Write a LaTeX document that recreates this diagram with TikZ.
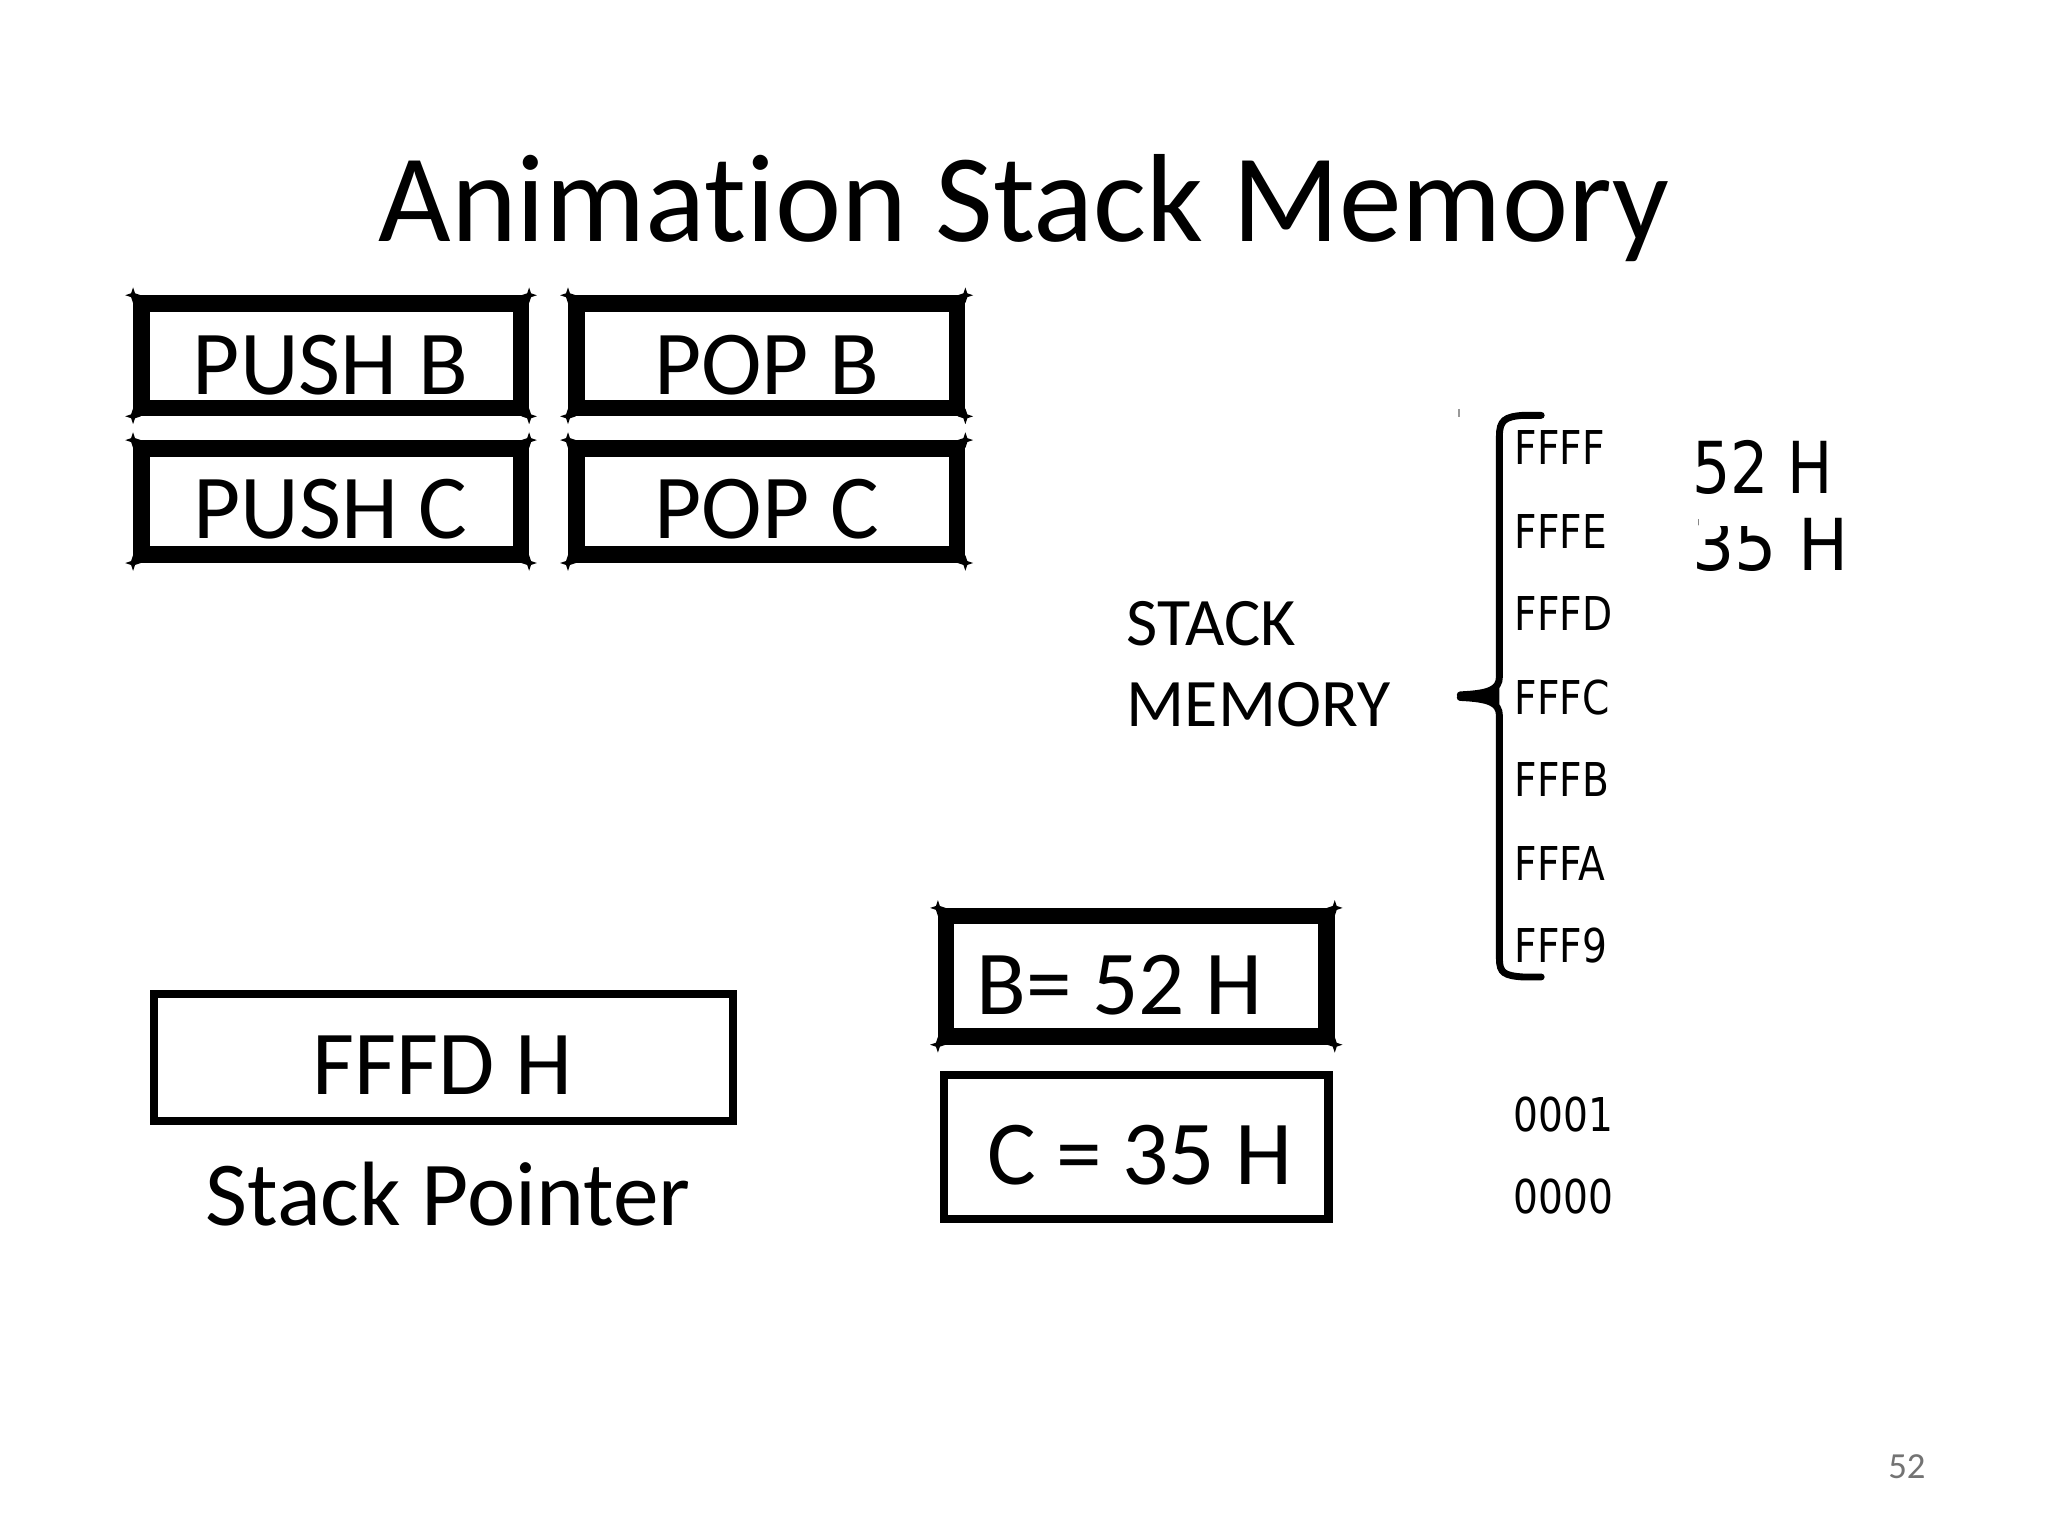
\documentclass[tikz,border=0pt]{standalone}
\usepackage{fontspec}
\setmainfont{Carlito}[Ligatures=NoCommon]
\newfontfamily\dvs[FakeStretch=0.84]{DejaVu Sans}
\newfontfamily\dvsw[FakeStretch=0.93]{DejaVu Sans}
\begin{document}
\begin{tikzpicture}[x=0.01cm,y=-0.01cm]
\tikzset{
  txt/.style={inner sep=0pt, anchor=base},
  txtw/.style={inner sep=0pt, anchor=base west},
  lbl/.style={font=\fontsize{19.9}{24}\selectfont},
  addr/.style={txtw, font=\dvs\fontsize{10.15}{12}\selectfont},
  thickbox/.style={draw, line width=3.6pt, inner sep=0pt},
  thinbox/.style={draw, line width=1.8pt, inner sep=0pt},
}
\useasboundingbox (0,0) rectangle (1568,1176);
\fill[white] (0,0) rectangle (1568,1176);

% title
\node[txt, font=\fontsize{27.3}{32}\selectfont] (title) at (784,185) {Animation Stack Memory};

% instruction boxes
\node[thickbox, minimum width=2.904cm, minimum height=0.80cm] (pushb) at (253.5,272.4) {};
\node[thickbox, minimum width=2.914cm, minimum height=0.80cm] (popb) at (587,272.4) {};
\node[thickbox, minimum width=2.904cm, minimum height=0.814cm] (pushc) at (253.5,384) {};
\node[thickbox, minimum width=2.914cm, minimum height=0.814cm] (popc) at (587,384) {};
\node[txt, lbl] (pushbT) at (253,302) {PUSH B};
\node[txt, lbl] (popbT) at (587,302) {POP B};
\node[txt, lbl] (pushcT) at (253,412) {PUSH C};
\node[txt, lbl] (popcT) at (587,412) {POP C};

% registers
\node[thickbox, minimum width=2.91cm, minimum height=0.92cm] (breg) at (870,747.5) {};
\node[txtw, lbl] (bregT) at (747,777) {B= 52 H};
\node[thinbox, minimum width=2.94cm, minimum height=1.10cm] (creg) at (870,878) {};
\node[txtw, lbl] (cregT) at (755,907) {C = 35 H};

% corner spikes of the thick boxes
\foreach \n in {pushb,popb,pushc,popc,breg}{
  \foreach \a in {north west,north east,south west,south east}{
    \fill[shift={(\n.\a)}] (-6,0) -- (-1.5,-1.5) -- (0,-6) -- (1.5,-1.5) -- (6,0)
      -- (1.5,1.5) -- (0,6) -- (-1.5,1.5) -- cycle;
  }
}

% stack pointer
\node[thinbox, minimum width=4.43cm, minimum height=0.97cm] (sp) at (339.5,809.5) {};
\node[txt, lbl] (spT) at (339,838) {FFFD H};
\node[txt, lbl] (spL) at (343,938) {Stack Pointer};

% stack memory label
\node[txtw, font=\fontsize{14.8}{18}\selectfont] (sm1) at (862,494) {STACK};
\node[txtw, font=\fontsize{14.8}{18}\selectfont] (sm2) at (862,556) {MEMORY};

% brace
\draw[line width=1.5pt, line cap=round]
  (1180,318) -- (1166,318) .. controls (1152,319) and (1148,322) .. (1148,334)
  -- (1148,518) .. controls (1148,528) and (1140,531) .. (1118,532);
\draw[line width=1.5pt, line cap=round]
  (1118,534) .. controls (1140,535) and (1148,538) .. (1148,548)
  -- (1148,734) .. controls (1148,745) and (1152,747) .. (1166,748) -- (1180,748);
\fill (1117,530) -- (1140,531) -- (1148,526) -- (1148,542) -- (1140,537) -- (1117,536) -- cycle;
\draw[black!40, line width=0.5pt] (1117,313) -- (1117,319);

% addresses
\node[addr] (a1) at (1159,356) {FFFF};
\node[addr] (a2) at (1159,420) {FFFE};
\node[addr] (a3) at (1159,483) {FFFD};
\node[addr] (a4) at (1159,547) {FFFC};
\node[addr] (a5) at (1159,610) {FFFB};
\node[addr] (a6) at (1159,674) {FFFA};
\node[addr] (a7) at (1159,737) {FFF9};
\node[addr] (z1) at (1158,866) {0001};
\node[addr] (z0) at (1158,929) {0000};

% stack contents
\node[txtw, font=\dvs\fontsize{15.6}{18}\selectfont] (v1) at (1295,378) {52 H};
\node[txtw, font=\dvsw\fontsize{15.6}{18}\selectfont] (v2) at (1295,436.5) {35 H};
\fill[white] (1301,395) rectangle (1362,403);

% page number
\node[txt, font=\fontsize{8}{10}\selectfont, text=black!55] (page) at (1460,1132) {52};
\end{tikzpicture}
\end{document}
